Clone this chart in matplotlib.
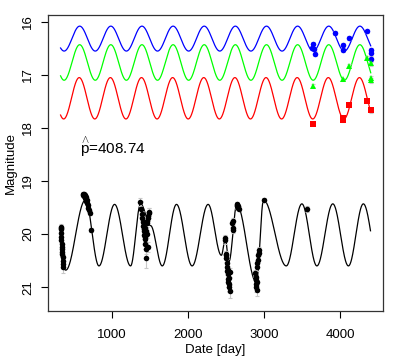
import numpy as np
import matplotlib
matplotlib.use("Agg")
import matplotlib.pyplot as plt

plt.rcParams['font.family'] = ['Liberation Sans', 'DejaVu Sans']
plt.rcParams['mathtext.fontset'] = 'custom'
plt.rcParams['mathtext.rm'] = 'Liberation Sans'
plt.rcParams['mathtext.it'] = 'Liberation Sans'

# ---------------- data ----------------
period = 408.74
model_start, model_end = 330, 4402

# sinusoid model parameters per band: (mean, amplitude, date of brightest phase)
blue_model = (16.315, 0.235, 581)
green_model = (16.765, 0.335, 581)
red_model = (17.44, 0.39, 575)

# black model curve: successive turning points (date, magnitude)
black_turn_dates = [195, 398, 655, 834, 1039, 1249, 1381, 1511, 1665, 1852, 2057,
                    2267, 2441, 2493, 2540, 2644, 2900, 2995, 3293, 3498, 3695,
                    3904, 4109, 4305, 4510]
black_turn_mags = [19.35, 20.68, 19.36, 20.60, 19.44, 20.60, 19.43, 19.84, 20.60,
                   19.44, 20.60, 19.44, 20.40, 20.09, 20.52, 19.45, 20.91, 19.36,
                   20.60, 19.43, 20.60, 19.43, 20.60, 19.43, 20.60]

# band data points
blue_dates = [3630, 3638, 3660, 3668, 3935, 4036, 4036, 4118, 4358, 4402, 4402, 4402]
blue_mags = [16.49, 16.41, 16.52, 16.60, 16.21, 16.44, 16.53, 16.30, 16.18, 16.53, 16.58, 16.70]
blue_err = [0.03, 0.03, 0.03, 0.05, 0.03, 0.04, 0.03, 0.04, 0.03, 0.04, 0.03, 0.05]

green_dates = [3638, 4036, 4118, 4358, 4402, 4402, 4402]
green_mags = [17.20, 17.08, 16.83, 16.68, 16.78, 17.06, 17.10]
green_err = [0.03, 0.03, 0.04, 0.03, 0.05, 0.04, 0.05]

red_dates = [3642, 4036, 4040, 4118, 4358, 4402]
red_mags = [17.92, 17.85, 17.82, 17.57, 17.50, 17.67]
red_err = [0.03, 0.04, 0.03, 0.04, 0.03, 0.05]

black_dates = [330, 332, 334, 336, 338, 340, 343, 346, 349, 352, 355, 358, 361, 364, 367,
               620, 628, 635, 640, 645, 650, 655, 660, 665, 670, 675, 680, 688, 695, 702, 710, 735,
               1372, 1380, 1395, 1402, 1410, 1415, 1420, 1425, 1428, 1432, 1435, 1440, 1444,
               1448, 1452, 1456, 1460, 1464, 1468, 1472, 1476, 1480, 1485, 1490,
               2490, 2493, 2498, 2502, 2506, 2510, 2514, 2518, 2522, 2526, 2530, 2534, 2538,
               2542, 2546, 2550, 2555, 2585, 2588, 2592, 2595, 2640, 2645, 2650, 2655, 2660, 2668,
               2885, 2890, 2893, 2897, 2900, 2903, 2906, 2910, 2915, 2920, 2925, 2930, 2935, 2995,
               3565]
black_mags = [19.86, 19.90, 19.88, 19.98, 20.05, 20.12, 20.18, 20.24, 20.28, 20.33, 20.38, 20.44, 20.50, 20.56, 20.62,
              19.27, 19.25, 19.28, 19.24, 19.30, 19.27, 19.32, 19.35, 19.30, 19.38, 19.36, 19.42, 19.45, 19.50, 19.55, 19.60, 19.93,
              19.40, 19.52, 19.62, 19.70, 19.85, 19.78, 19.95, 20.02, 19.90, 20.10, 19.88, 20.05, 20.18,
              19.95, 20.45, 20.28, 19.80, 19.75, 20.00, 19.70, 20.24, 19.65, 19.60, 19.58,
              20.08, 20.12, 20.40, 20.45, 20.38, 20.55, 20.62, 20.70, 20.85, 20.68, 20.75, 20.90, 20.95,
              21.00, 20.82, 20.72, 21.08, 19.80, 19.75, 19.88, 19.92, 19.46, 19.44, 19.48, 19.47, 19.50, 19.52,
              20.74, 20.80, 20.87, 20.95, 21.00, 21.06, 20.90, 20.62, 20.55, 20.48, 20.40, 20.35, 20.30, 19.36,
              19.53]
black_err = [0.05, 0.04, 0.04, 0.04, 0.04, 0.04, 0.04, 0.04, 0.04, 0.04, 0.05, 0.05, 0.05, 0.06, 0.12,
             0.03, 0.03, 0.03, 0.03, 0.03, 0.03, 0.03, 0.03, 0.03, 0.03, 0.03, 0.03, 0.03, 0.03, 0.03, 0.04, 0.04,
             0.08, 0.15, 0.06, 0.06, 0.06, 0.06, 0.06, 0.08, 0.06, 0.08, 0.06, 0.08, 0.10,
             0.06, 0.18, 0.10, 0.06, 0.06, 0.08, 0.06, 0.10, 0.06, 0.10, 0.08,
             0.06, 0.06, 0.08, 0.08, 0.06, 0.08, 0.08, 0.08, 0.10, 0.08, 0.08, 0.10, 0.12,
             0.10, 0.08, 0.08, 0.12, 0.06, 0.06, 0.06, 0.06, 0.04, 0.04, 0.04, 0.04, 0.04, 0.04,
             0.06, 0.06, 0.08, 0.08, 0.10, 0.10, 0.08, 0.08, 0.06, 0.06, 0.06, 0.06, 0.06, 0.04,
             0.06]

x_ticks = [1000, 2000, 3000, 4000]
y_ticks = [16, 17, 18, 19, 20, 21]
label_text = r"$\overset{\wedge}{\mathrm{p}}$=408.74"

# ---------------- figure ----------------
fig = plt.figure(figsize=(3.99, 3.59), dpi=100)
ax = fig.add_axes([48/399, 1 - 311/359, (383-48)/399, (311-15)/359])

t = np.linspace(model_start, model_end, 1500)
for (mean, amp, t0), col in [(blue_model, '#0000FF'), (green_model, '#00FF00'), (red_model, '#FF0000')]:
    ax.plot(t, mean - amp*np.cos(2*np.pi*(t - t0)/period), color=col, lw=0.9)

# black model curve through its turning points
bx, by = [], []
for i in range(len(black_turn_dates) - 1):
    x0, x1 = black_turn_dates[i], black_turn_dates[i+1]
    y0, y1 = black_turn_mags[i], black_turn_mags[i+1]
    s = np.linspace(0, 1, 60)
    bx.append(x0 + s*(x1 - x0))
    by.append(y0 + (y1 - y0)*(1 - np.cos(np.pi*s))/2)
bx = np.concatenate(bx); by = np.concatenate(by)
mask = (bx >= model_start) & (bx <= model_end)
ax.plot(bx[mask], by[mask], color='black', lw=0.9)

ecol = '#C8C8C8'
for d, m, e, col, mk, ms in [
        (blue_dates, blue_mags, blue_err, '#0000FF', 'o', 4.0),
        (green_dates, green_mags, green_err, '#00FF00', '^', 4.4),
        (red_dates, red_mags, red_err, '#FF0000', 's', 4.0),
        (black_dates, black_mags, black_err, 'black', 'o', 4.0)]:
    ax.errorbar(d, m, yerr=e, fmt='none', ecolor=ecol, elinewidth=0.8, capsize=1.5, capthick=0.8, zorder=2)
    ax.plot(d, m, linestyle='none', marker=mk, color=col, markersize=ms, markeredgewidth=0, zorder=3)

ax.set_xlim(165, 4563)
ax.set_ylim(21.45, 15.87)
ax.set_xticks(x_ticks)
ax.set_yticks(y_ticks)
ax.set_xticklabels([str(v) for v in x_ticks], fontsize=9.5)
ax.set_yticklabels([str(v) for v in y_ticks], fontsize=9.5, rotation=90, va='center')
ax.tick_params(axis='x', length=5, width=0.8, pad=8)
ax.tick_params(axis='y', length=5, width=0.8, pad=5)
for sp in ax.spines.values():
    sp.set_linewidth(0.9)
    sp.set_color('#333333')

ax.set_xlabel("Date [day]", fontsize=9.5, labelpad=2)
ax.set_ylabel("Magnitude", fontsize=9.5, labelpad=4)

ax.text(581, 18.35, label_text, fontsize=11, va='center', ha='left')

fig.savefig("out.png", dpi=100)
